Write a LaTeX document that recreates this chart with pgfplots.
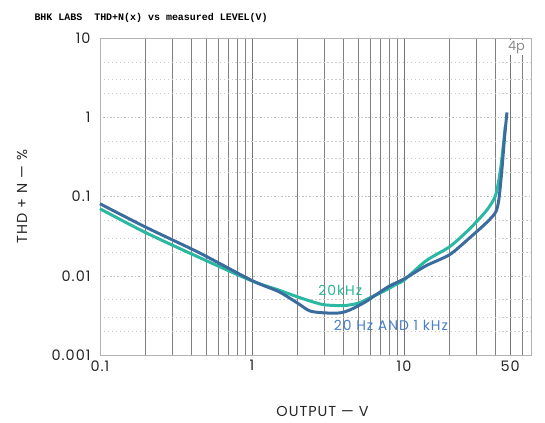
\documentclass[border=0pt]{standalone}
\usepackage{pgfplots}
\pgfplotsset{compat=1.18}
\usepackage{fontspec}
\setmainfont{Poppins}
\newfontfamily\labfont[LetterSpace=7]{Poppins}
\newfontfamily\monofont{Liberation Mono}
\definecolor{bluecurve}{HTML}{3A6C9E}
\definecolor{tealcurve}{HTML}{2BB8A2}
\definecolor{bluelabel}{HTML}{4A7FC8}
\definecolor{teallabel}{HTML}{2EB496}
\begin{document}
\begin{tikzpicture}
\begin{axis}[
  scale only axis,
  width=431bp, height=317bp,
  xmode=log, ymode=log,
  xmin=0.1, xmax=68.5,
  ymin=0.001, ymax=10,
  xtick={0.1,1,10,50},
  xticklabels={0.1,1,10,50},
  minor xtick={0.2,0.3,0.4,0.5,0.6,0.7,0.8,0.9,2,3,4,5,6,7,8,9,20,30,40,60},
  ytick={0.001,0.01,0.1,1,10},
  yticklabels={0.001,0.01,0.1,1,10},
  minor ytick={0.002,0.003,0.005,0.02,0.03,0.05,0.2,0.3,0.5,2,3,5},
  major tick length=0pt, minor tick length=0pt,
  /pgf/number format/assume math mode=true,
  tick label style={font=\labfont\fontsize{14.5}{16}\selectfont, text=black!85},
  xticklabel style={yshift=-2bp},
  yticklabel style={xshift=-6bp},
  xmajorgrids, xminorgrids, ymajorgrids, yminorgrids,
  major x grid style={black!55, line width=0.8pt},
  minor x grid style={black!50, line width=0.8pt},
  major y grid style={gray!50, line width=0.5pt, dash pattern=on 1.5pt off 2pt},
  minor y grid style={gray!40, line width=0.5pt, dash pattern=on 1.5pt off 2.5pt},
  axis line style={gray!60, line width=0.6pt},
  clip=false,
]
% 20 kHz (teal)
\addplot[tealcurve, line width=3pt, smooth, tension=0.45] coordinates {
  (0.1,0.070) (0.2,0.035) (0.45,0.0170) (1.0,0.0086) (1.5,0.0066)
  (2.0,0.0054) (2.5,0.0047) (3.0,0.0043) (4.0,0.0042) (5.0,0.0045)
  (6.0,0.0053) (7.5,0.0065) (9.0,0.0079) (10,0.0088) (14,0.0155)
  (20,0.0233) (27,0.039) (35,0.067) (40,0.103) (43,0.21) (45,0.44) (46.5,0.79)
};
% 20 Hz and 1 kHz (blue)
\addplot[bluecurve, line width=3pt, smooth, tension=0.45] coordinates {
  (0.1,0.081) (0.2,0.041) (0.45,0.0195) (1.0,0.0087) (1.5,0.0063)
  (2.0,0.0045) (2.4,0.0036) (3.0,0.0034) (3.8,0.0034) (4.4,0.0037)
  (5.5,0.0046) (6.5,0.0057) (8,0.0074) (10,0.0091) (14,0.0134)
  (20,0.0185) (27,0.030) (35,0.047) (40,0.063) (42,0.089) (44,0.21)
  (46,0.59) (47.6,1.15)
};

\node[text=teallabel, font=\labfont\fontsize{14}{16}\selectfont] at (axis cs:3.81,0.0066) {20kHz};
\node[text=bluelabel, font=\labfont\fontsize{14}{16}\selectfont] at (axis cs:8.2,0.00235) {20 Hz AND 1 kHz};
\node[text=gray!90, fill=white, inner sep=1pt, font=\fontsize{13}{15}\selectfont] at (axis cs:55,7.6) {4p};

\coordinate (SW) at (rel axis cs:0,0);
\coordinate (NE) at (rel axis cs:1,1);
\end{axis}
\path (SW) -- (NE) coordinate[pos=0.5] (C);
\node[font=\labfont\fontsize{14.5}{16}\selectfont, rotate=90, text=black!85] at ([xshift=-78bp]C -| SW) {THD + N — \%};
\node[font=\labfont\fontsize{14.5}{16}\selectfont, text=black!85] at ([shift={(7bp,-56bp)}]C |- SW) {OUTPUT — V};
\node[anchor=west, font=\monofont\bfseries\fontsize{10}{11}\selectfont, text=black] at ([shift={(-69bp,20bp)}]SW |- NE) {BHK LABS~~THD+N(x) vs measured LEVEL(V)};
\pgfresetboundingbox
\path[use as bounding box] ([shift={(-100bp,-68bp)}]SW) rectangle ([shift={(14bp,38bp)}]NE);
\end{tikzpicture}
\end{document}
